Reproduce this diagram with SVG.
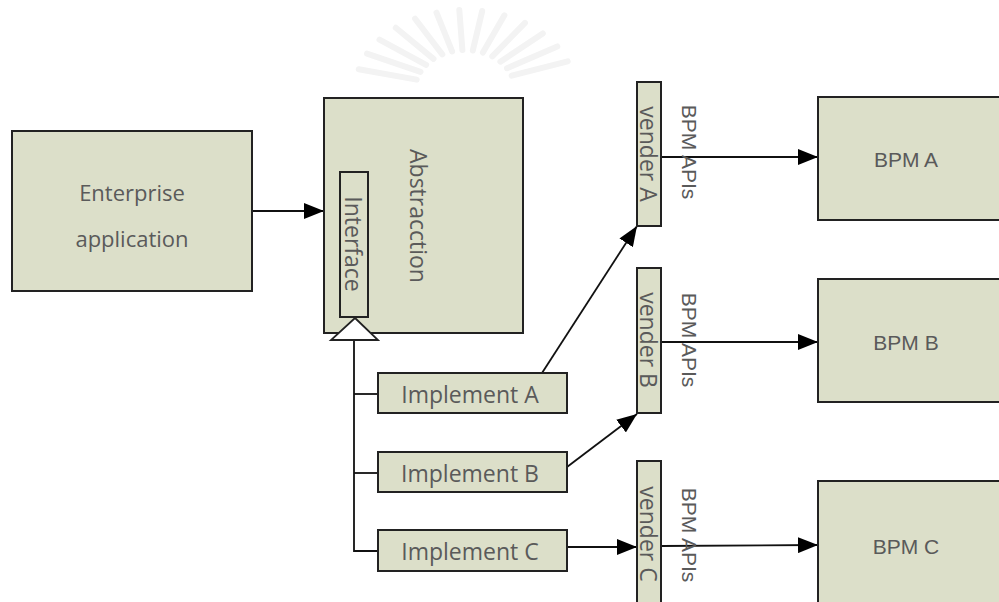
<svg xmlns="http://www.w3.org/2000/svg" width="999" height="602" viewBox="0 0 999 602">
<defs>
<style>
.box{fill:#dcdfc9;stroke:#222;stroke-width:2}
.t{font-family:"Open Sans","DejaVu Sans",sans-serif;fill:#5a5a5a;font-size:23px;text-anchor:middle;dominant-baseline:central}
.te{font-size:22px}
.ts{font-family:"Liberation Sans",Arial,sans-serif;font-size:21px}
.c{stroke:#111;stroke-width:1.8;fill:none}
.wm{stroke:#f3f3f3;stroke-width:6;stroke-linecap:round;fill:none}
</style>
<marker id="ahb" viewBox="0 0 20 16" refX="20" refY="8" markerWidth="20" markerHeight="16" markerUnits="userSpaceOnUse" orient="auto">
<path d="M0,0 L20,8 L0,16 z" fill="#000"/>
</marker>
</defs>
<rect width="999" height="602" fill="#fff"/>
<g id="watermark">
<path class="wm" d="M416.7,79.6 L358.7,69.3 M420.5,71.8 L367,53.7 M426.1,64.8 L379.5,39.7 M433.5,58.9 L395.8,27.8 M442.3,54.4 L415.1,18.7 M452.1,51.4 L436.5,12.7 M462.4,50 L459.3,10.1 M472.8,50.5 L482.2,11 M482.9,52.6 L504.4,15.3 M492.3,56.4 L525,22.9 M500.4,61.7 L542.8,33.4 M507,68.2 L557.3,46.4 M511.7,75.7 L567.7,61.4"/>
</g>
<g id="connectors">
<line class="c" x1="252" y1="211" x2="324" y2="211" marker-end="url(#ahb)"/>
<polyline class="c" points="354,340 354,551 378,551"/>
<line class="c" x1="354" y1="394" x2="378" y2="394"/>
<line class="c" x1="354" y1="473" x2="378" y2="473"/>
<line class="c" x1="542" y1="373" x2="637" y2="226" marker-end="url(#ahb)"/>
<line class="c" x1="567" y1="467" x2="637" y2="414" marker-end="url(#ahb)"/>
<line class="c" x1="567" y1="547" x2="637" y2="547" marker-end="url(#ahb)"/>
<line class="c" x1="661" y1="157" x2="818" y2="157" marker-end="url(#ahb)"/>
<line class="c" x1="661" y1="342" x2="818" y2="342" marker-end="url(#ahb)"/>
<line class="c" x1="661" y1="546" x2="818" y2="545" marker-end="url(#ahb)"/>
</g>
<g id="enterprise">
<rect class="box" x="12" y="131" width="240" height="160"/>
<text class="t te" x="132" y="192">Enterprise</text>
<text class="t te" x="132" y="238">application</text>
</g>
<g id="abstraction">
<rect class="box" x="324" y="98" width="199" height="235"/>
<text class="t" transform="translate(419,216) rotate(90)">Abstracction</text>
</g>
<g id="interface">
<rect class="box" x="340" y="172" width="28" height="145"/>
<text class="t" transform="translate(354,244) rotate(90)">Interface</text>
</g>
<g id="inherit-triangle">
<path d="M355,318 L378,340 L331,340 Z" fill="#fff" stroke="#222" stroke-width="1.8"/>
</g>
<g id="implA">
<rect class="box" x="378" y="373" width="189" height="40"/>
<text class="t" x="470" y="394">Implement A</text>
</g>
<g id="implB">
<rect class="box" x="378" y="452" width="189" height="40"/>
<text class="t" x="470" y="473">Implement B</text>
</g>
<g id="implC">
<rect class="box" x="378" y="530" width="189" height="41"/>
<text class="t" x="470" y="551">Implement C</text>
</g>
<g id="venderA">
<rect class="box" x="637" y="82" width="24" height="144"/>
<text class="t" transform="translate(649,154) rotate(90)">vender A</text>
</g>
<g id="venderB">
<rect class="box" x="637" y="268" width="24" height="145"/>
<text class="t" transform="translate(649,340) rotate(90)">vender B</text>
</g>
<g id="venderC">
<rect class="box" x="637" y="461" width="24" height="150"/>
<text class="t" transform="translate(649,534) rotate(90)">vender C</text>
</g>
<g id="apisA"><text class="t ts" transform="translate(689,152) rotate(90)">BPM APIs</text></g>
<g id="apisB"><text class="t ts" transform="translate(689,340) rotate(90)">BPM APIs</text></g>
<g id="apisC"><text class="t ts" transform="translate(689,535) rotate(90)">BPM APIs</text></g>
<g id="bpmA">
<rect class="box" x="818" y="97" width="190" height="123"/>
<text class="t ts" x="906" y="159">BPM A</text>
</g>
<g id="bpmB">
<rect class="box" x="818" y="279" width="190" height="123"/>
<text class="t ts" x="906" y="342">BPM B</text>
</g>
<g id="bpmC">
<rect class="box" x="818" y="481" width="190" height="130"/>
<text class="t ts" x="906" y="546">BPM C</text>
</g>
</svg>
